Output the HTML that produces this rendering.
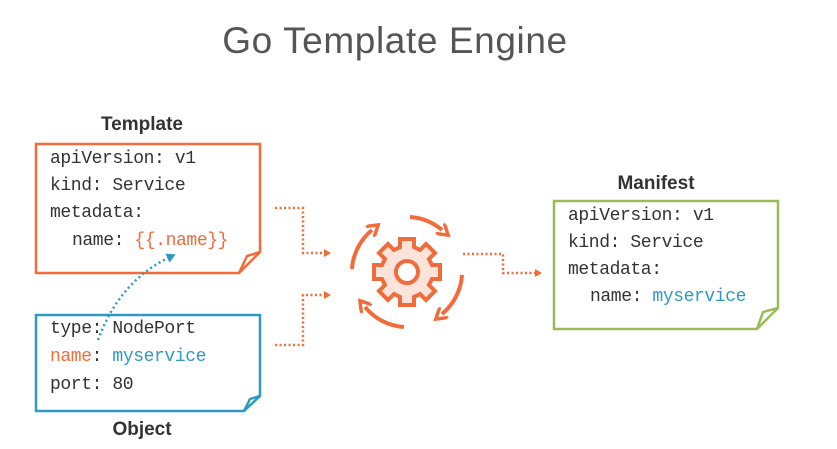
<!DOCTYPE html>
<html><head><meta charset="utf-8"><style>
html,body{margin:0;padding:0;background:#fff;}
svg{display:block}
.m{font-family:"Liberation Mono",monospace;font-size:18px;letter-spacing:-0.4px;fill:#333}
.h{font-family:"Liberation Sans",sans-serif;font-weight:bold;font-size:19px;fill:#333}
</style></head><body>
<svg width="837" height="449" viewBox="0 0 837 449" xmlns="http://www.w3.org/2000/svg">
<defs>
<marker id="ah" markerWidth="8" markerHeight="8" refX="5" refY="4" orient="auto" markerUnits="userSpaceOnUse"><path d="M0,0 L7,4 L0,8 z" fill="#f26b3a"/></marker>
<marker id="ag" markerWidth="14" markerHeight="14" refX="3" refY="7" orient="auto" markerUnits="userSpaceOnUse"><path d="M0,0 L11,7 L0,14" fill="none" stroke="#f26b3a" stroke-width="3.5"/></marker>
<marker id="ab" markerWidth="10" markerHeight="10" refX="5" refY="5" orient="auto" markerUnits="userSpaceOnUse"><path d="M0,0 L9,5 L0,10 z" fill="#2e9ac1"/></marker>
</defs>
<text x="395" y="53" text-anchor="middle" font-family="Liberation Sans,sans-serif" font-size="37" fill="#555" letter-spacing="0.6">Go Template Engine</text>
<text x="142" y="130" text-anchor="middle" class="h">Template</text>
<text x="142" y="435" text-anchor="middle" class="h">Object</text>
<text x="656" y="189" text-anchor="middle" class="h">Manifest</text>
<path d="M36,144 H260 V252 L239,273 H36 Z" fill="#fff" stroke="#f26b3a" stroke-width="2.5"/>
<path d="M260,252 L247,256 L239,273" fill="none" stroke="#f26b3a" stroke-width="2.5"/>
<text class="m" x="50" y="163">apiVersion: v1</text>
<text class="m" x="50" y="190">kind: Service</text>
<text class="m" x="50" y="217">metadata:</text>
<text class="m" x="72" y="245">name: <tspan fill="#f26b3a">{{.name}}</tspan></text>
<path d="M36,315 H260 V396 L244,411 H36 Z" fill="#fff" stroke="#2e9ac1" stroke-width="2.5"/>
<path d="M260,396 L250,399 L244,411" fill="none" stroke="#2e9ac1" stroke-width="2.5"/>
<text class="m" x="50" y="333">type: NodePort</text>
<text class="m" x="50" y="361"><tspan fill="#f26b3a">name</tspan>: <tspan fill="#2e9ac1">myservice</tspan></text>
<text class="m" x="50" y="389">port: 80</text>
<path d="M554,201 H778 V308 L757,329 H554 Z" fill="#fff" stroke="#9bbb59" stroke-width="2.5"/>
<path d="M778,308 L763,312 L757,329" fill="none" stroke="#9bbb59" stroke-width="2.5"/>
<text class="m" x="568" y="220">apiVersion: v1</text>
<text class="m" x="568" y="247">kind: Service</text>
<text class="m" x="568" y="274">metadata:</text>
<text class="m" x="590" y="301">name: <tspan fill="#2e9ac1">myservice</tspan></text>
<path d="M98,340 Q120,280 172,256" fill="none" stroke="#2e9ac1" stroke-width="2.5" stroke-dasharray="2,3" marker-end="url(#ab)"/>
<g fill="none" stroke="#f26b3a" stroke-width="2.5" stroke-dasharray="2,2.5">
<path d="M275,208 H303 V253 H329" marker-end="url(#ah)"/>
<path d="M275,345 H303 V295 H329" marker-end="url(#ah)"/>
<path d="M463,254 H503 V273 H540" marker-end="url(#ah)"/>
</g>
<g transform="translate(407,272)">
<path d="M-7,-33 H7 V-25 L13,-22 L19,-28 L28,-19 L22,-13 L25,-7 H33 V7 H25 L22,13 L28,19 L19,28 L13,22 L7,25 V33 H-7 V25 L-13,22 L-19,28 L-28,19 L-22,13 L-25,7 H-33 V-7 H-25 L-22,-13 L-28,-19 L-19,-28 L-13,-22 L-7,-25 Z" fill="#fde3da" stroke="#f26b3a" stroke-width="4"/>
<circle r="11" fill="#fff" stroke="#f26b3a" stroke-width="4"/>
</g>
<g fill="none" stroke="#f26b3a" stroke-width="4">
<path d="M410,217 A55,55 0 0 1 442,230" marker-end="url(#ag)"/>
<path d="M462,275 A55,55 0 0 1 442,314" marker-end="url(#ag)"/>
<path d="M404,327 A55,55 0 0 1 365,307" marker-end="url(#ag)"/>
<path d="M352,269 A55,55 0 0 1 372,230" marker-end="url(#ag)"/>
</g>
</svg>
</body></html>
